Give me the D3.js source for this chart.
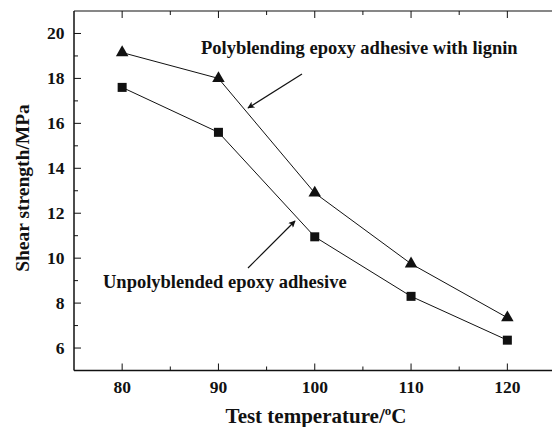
<!DOCTYPE html>
<html>
<head>
<meta charset="utf-8">
<script src="https://cdn.jsdelivr.net/npm/d3@7"></script>
<style>
  html, body { margin: 0; padding: 0; background: #fff; }
  svg text { font-family: "Liberation Serif", "Times New Roman", serif; font-weight: bold; fill: #111; }
</style>
</head>
<body>
<svg id="chart" width="552" height="427"></svg>
<script>
// Shear strength vs. test temperature for two epoxy adhesives
const temperatures = [80, 90, 100, 110, 120];
const ligninBlend = [19.15, 18.0, 12.9, 9.75, 7.35];
const unblended = [17.6, 15.6, 10.95, 8.3, 6.35];
const xTicks = [80, 90, 100, 110, 120];
const yTicks = [6, 8, 10, 12, 14, 16, 18, 20];

const svg = d3.select("#chart");
const margin = { left: 74, top: 11, bottom: 370.5 };
const x = d3.scaleLinear().domain([75, 125]).range([margin.left, margin.left + 481.5]);
const y = d3.scaleLinear().domain([5, 21]).range([margin.bottom, margin.top]);

const ink = "#111";

// frame lines (left, bottom, top)
svg.append("line").attr("x1", x(75)).attr("x2", x(75)).attr("y1", y(5)).attr("y2", y(21))
  .attr("stroke", ink).attr("stroke-width", 1.5);
svg.append("line").attr("x1", x(75)).attr("x2", 552).attr("y1", y(5)).attr("y2", y(5))
  .attr("stroke", ink).attr("stroke-width", 1.5);
svg.append("line").attr("x1", x(75)).attr("x2", 552).attr("y1", y(21)).attr("y2", y(21))
  .attr("stroke", ink).attr("stroke-width", 1.2);

// inward ticks
const xMinor = d3.range(85, 125, 5).filter(v => !xTicks.includes(v));
const yMinor = d3.range(7, 21, 2);

function xTickMarks(vals, len) {
  svg.append("g").selectAll("line.b").data(vals).join("line")
    .attr("x1", d => x(d)).attr("x2", d => x(d))
    .attr("y1", y(5)).attr("y2", y(5) - len)
    .attr("stroke", ink).attr("stroke-width", 1);
  svg.append("g").selectAll("line.t").data(vals).join("line")
    .attr("x1", d => x(d)).attr("x2", d => x(d))
    .attr("y1", y(21)).attr("y2", y(21) + len)
    .attr("stroke", ink).attr("stroke-width", 1);
}
xTickMarks(xTicks, 7);
xTickMarks(xMinor, 4);

svg.append("g").selectAll("line").data(yTicks).join("line")
  .attr("x1", x(75)).attr("x2", x(75) + 7)
  .attr("y1", d => y(d)).attr("y2", d => y(d))
  .attr("stroke", ink).attr("stroke-width", 1);
svg.append("g").selectAll("line").data(yMinor).join("line")
  .attr("x1", x(75)).attr("x2", x(75) + 4)
  .attr("y1", d => y(d)).attr("y2", d => y(d))
  .attr("stroke", ink).attr("stroke-width", 1);

// tick labels
svg.append("g").selectAll("text").data(xTicks).join("text")
  .attr("x", d => x(d)).attr("y", 393)
  .attr("text-anchor", "middle").attr("font-size", 17.5)
  .text(d => d);
svg.append("g").selectAll("text").data(yTicks).join("text")
  .attr("x", 64.5).attr("y", d => y(d) + 5.5)
  .attr("text-anchor", "end").attr("font-size", 17.5)
  .text(d => d);

// axis titles
const xt = svg.append("text").attr("x", 316).attr("y", 422.5)
  .attr("text-anchor", "middle").attr("font-size", 21);
xt.append("tspan").text("Test temperature/");
xt.append("tspan").attr("font-size", 13).attr("dy", -8).text("o");
xt.append("tspan").attr("dy", 8).text("C");

svg.append("text")
  .attr("transform", "translate(29,188) rotate(-90)")
  .attr("text-anchor", "middle").attr("font-size", 19.5)
  .text("Shear strength/MPa");

// series lines
const line = d3.line().x((d, i) => x(temperatures[i])).y(d => y(d));
svg.append("path").datum(ligninBlend).attr("d", line)
  .attr("fill", "none").attr("stroke", ink).attr("stroke-width", 1);
svg.append("path").datum(unblended).attr("d", line)
  .attr("fill", "none").attr("stroke", ink).attr("stroke-width", 1);

// markers
const tri = d3.symbol().type(d3.symbolTriangle).size(68);
svg.append("g").selectAll("path").data(ligninBlend).join("path")
  .attr("transform", (d, i) => `translate(${x(temperatures[i])},${y(d)})`)
  .attr("d", tri).attr("fill", ink);
svg.append("g").selectAll("rect").data(unblended).join("rect")
  .attr("x", (d, i) => x(temperatures[i]) - 4.5).attr("y", d => y(d) - 4.5)
  .attr("width", 9).attr("height", 9).attr("fill", ink);

// annotations with arrows
const defs = svg.append("defs");
defs.append("marker").attr("id", "arrowhead")
  .attr("viewBox", "0 0 10 10").attr("refX", 9).attr("refY", 5)
  .attr("markerWidth", 10).attr("markerHeight", 7).attr("orient", "auto")
  .attr("markerUnits", "userSpaceOnUse")
  .append("path").attr("d", "M0,0 L10,5 L0,10 L2.5,5 Z").attr("fill", ink);

svg.append("text").attr("x", 201).attr("y", 54).attr("font-size", 18.5)
  .text("Polyblending epoxy adhesive with lignin");
svg.append("line").attr("x1", 302).attr("y1", 74).attr("x2", 248).attr("y2", 108)
  .attr("stroke", ink).attr("stroke-width", 1.2).attr("marker-end", "url(#arrowhead)");

svg.append("text").attr("x", 103).attr("y", 288).attr("font-size", 18.5)
  .text("Unpolyblended epoxy adhesive");
svg.append("line").attr("x1", 248).attr("y1", 268).attr("x2", 295).attr("y2", 221)
  .attr("stroke", ink).attr("stroke-width", 1.2).attr("marker-end", "url(#arrowhead)");
</script>
</body>
</html>
